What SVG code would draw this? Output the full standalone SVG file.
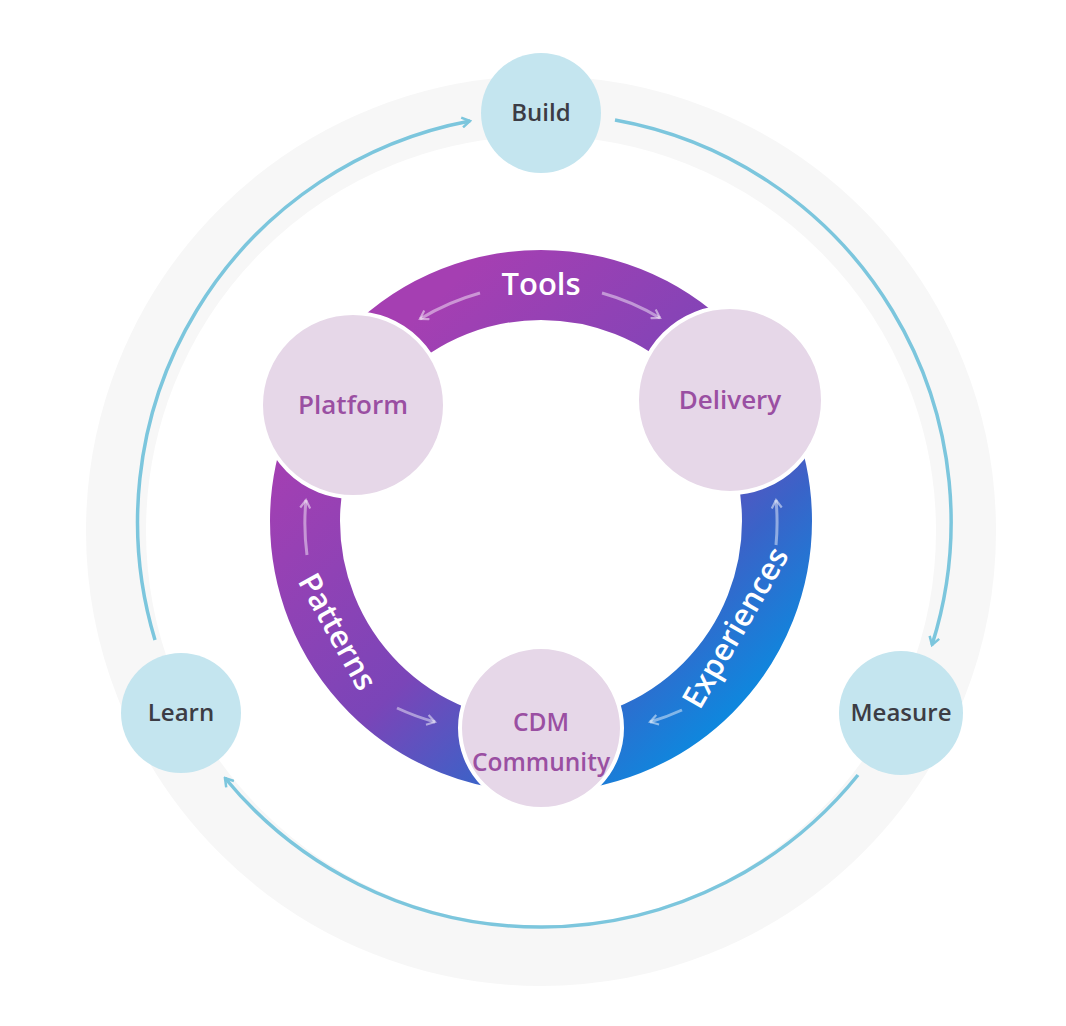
<svg xmlns="http://www.w3.org/2000/svg" width="1066" height="1026" viewBox="0 0 1066 1026">
<style>
.cyc{fill:none;stroke:#7cc6dd;stroke-width:3.5}
.outer circle{fill:#c4e5ef}
.outer text{font-family:"Open Sans",sans-serif;font-weight:600;font-size:24px;fill:#3c3c44;text-anchor:middle}
.inner circle{fill:#e6d7e8;stroke:#fff;stroke-width:4}
.inner text{font-family:"Open Sans",sans-serif;font-weight:600;font-size:26px;fill:#9a4fa2;text-anchor:middle}
.inner text.sm{font-size:24.5px}
.lbl{font-family:"Open Sans",sans-serif;font-weight:600;font-size:31px;fill:#fff;text-anchor:middle}
.sa{fill:none;stroke:#fff;stroke-opacity:0.45;stroke-width:3}
</style>
<defs>
<linearGradient id="g" x1="0.2" y1="0.1" x2="0.95" y2="0.9">
<stop offset="0" stop-color="#a53fb2"/>
<stop offset="0.5" stop-color="#7a45b8"/>
<stop offset="0.75" stop-color="#3a63c8"/>
<stop offset="1" stop-color="#0a8be0"/>
</linearGradient>
<marker id="ah" viewBox="0 0 12 12" refX="10" refY="6" markerWidth="12" markerHeight="12" markerUnits="userSpaceOnUse" orient="auto">
<path d="M2,1 L10,6 L2,11" fill="none" stroke="#7cc6dd" stroke-width="2.5"/>
</marker>
<marker id="sh" viewBox="0 0 12 12" refX="10" refY="6" markerWidth="12" markerHeight="12" markerUnits="userSpaceOnUse" orient="auto">
<path d="M2,1 L10,6 L2,11" fill="none" stroke="#fff" stroke-opacity="0.5" stroke-width="2.2"/>
</marker>
</defs>
<circle cx="541" cy="531" r="425" fill="none" stroke="#f7f7f7" stroke-width="60"/>
<g id="connectors">
<path class="cyc" d="M155,640 A408,408 0 0 1 470,121" marker-end="url(#ah)"/>
<path class="cyc" d="M615,120 A408,408 0 0 1 932,645" marker-end="url(#ah)"/>
<path class="cyc" d="M858,775 A408,408 0 0 1 225,778" marker-end="url(#ah)"/>
</g>
<circle id="ring" cx="541" cy="521" r="236" fill="none" stroke="url(#g)" stroke-width="70"/>
<g id="ring-arrows">
<path class="sa" d="M480,293 A236,236 0 0 0 420,319" marker-end="url(#sh)"/>
<path class="sa" d="M602,293 A236,236 0 0 1 660,318" marker-end="url(#sh)"/>
<path class="sa" d="M307,555 A236,236 0 0 1 306,500" marker-end="url(#sh)"/>
<path class="sa" d="M397,708 A236,236 0 0 0 435,722" marker-end="url(#sh)"/>
<path class="sa" d="M776,545 A236,236 0 0 0 776,500" marker-end="url(#sh)"/>
<path class="sa" d="M682,710 A236,236 0 0 1 650,722" marker-end="url(#sh)"/>
</g>
<text class="lbl" x="541" y="295">Tools</text>
<text class="lbl" transform="translate(337,632) rotate(61)" y="10">Patterns</text>
<text class="lbl" transform="translate(736,628) rotate(-60)" y="10">Experiences</text>
<g id="build" class="outer"><circle cx="541" cy="113" r="60"/><text x="541" y="121">Build</text></g>
<g id="measure" class="outer"><circle cx="901" cy="713" r="62"/><text x="901" y="721">Measure</text></g>
<g id="learn" class="outer"><circle cx="181" cy="713" r="60"/><text x="181" y="721">Learn</text></g>
<g id="platform" class="inner"><circle cx="353" cy="405" r="92"/><text x="353" y="414">Platform</text></g>
<g id="delivery" class="inner"><circle cx="730" cy="400" r="93"/><text x="730" y="409">Delivery</text></g>
<g id="cdm" class="inner"><circle cx="541" cy="728" r="81"/><text class="sm" x="541" y="731">CDM</text><text class="sm" x="541" y="771">Community</text></g>
</svg>
